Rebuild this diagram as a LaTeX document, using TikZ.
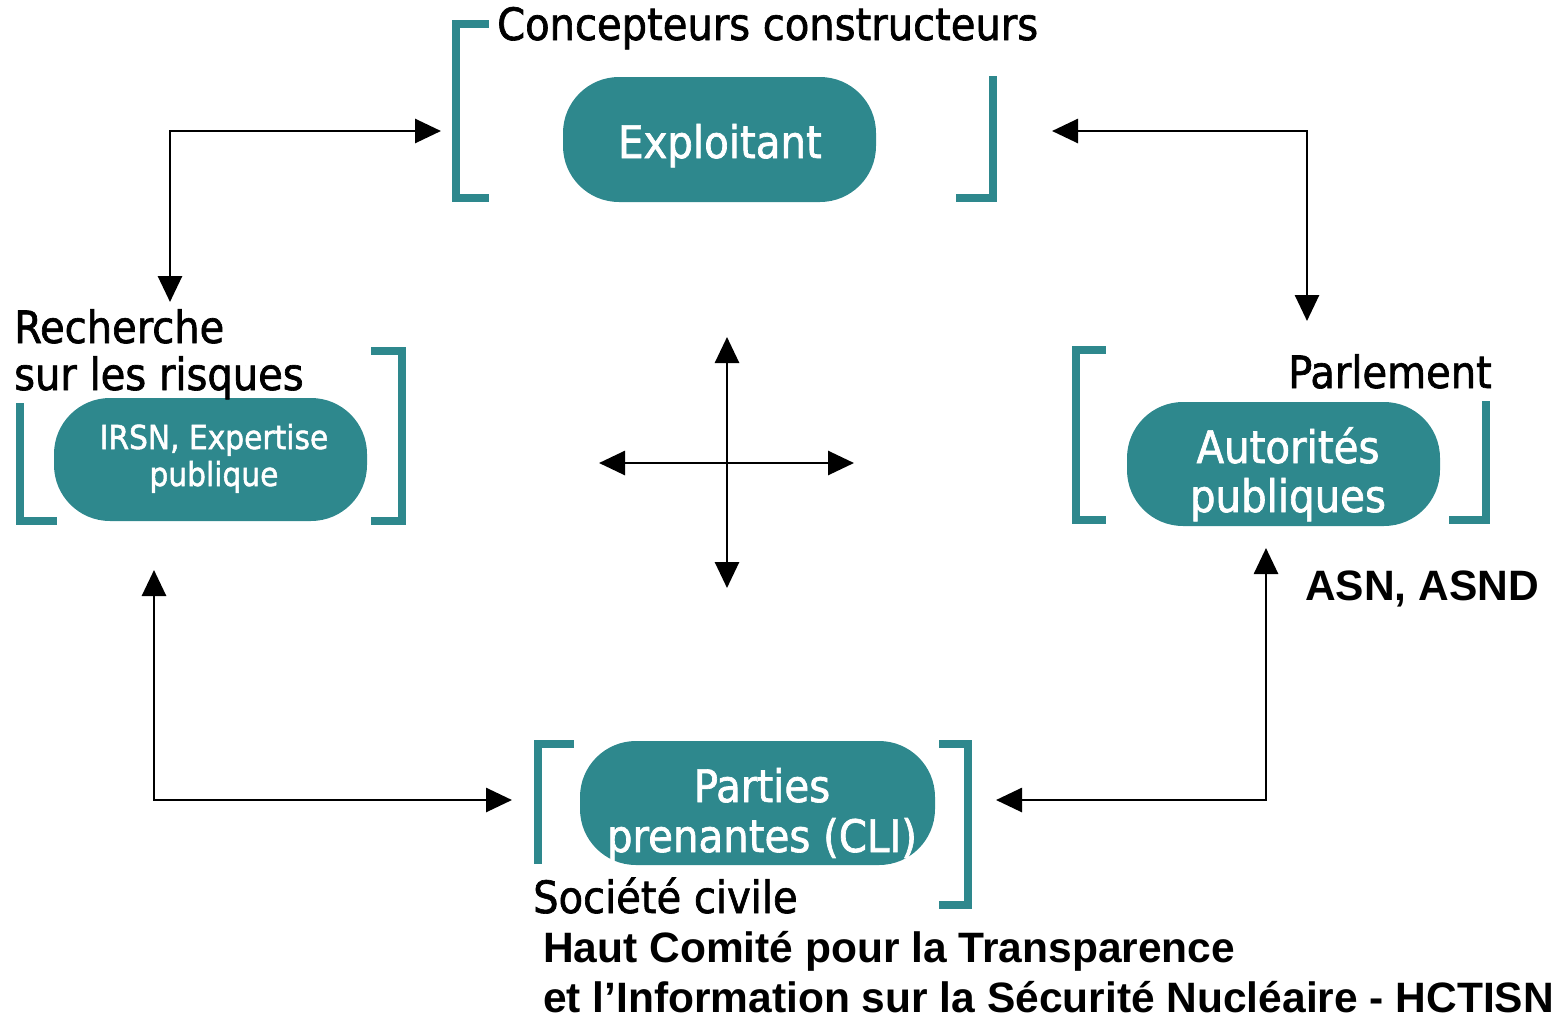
\documentclass[tikz,border=0pt]{standalone}
\usepackage{fontspec}
\setmainfont{DejaVu Sans Condensed}[FakeBold=1.5]
\newfontfamily\arialfont{Liberation Sans}
\usetikzlibrary{arrows.meta}
\definecolor{tealbox}{RGB}{46,136,141}
\begin{document}
\begin{tikzpicture}[x=1pt,y=-1pt,
  pill/.style={fill=tealbox,draw=none,rounded corners=56pt,inner sep=0pt},
  brk/.style={draw=tealbox,line width=8pt,line join=miter,line cap=rect},
  conn/.style={line width=2.8pt,{Triangle[length=26pt,width=24pt]}-{Triangle[length=26pt,width=24pt]}},
  wtxt/.style={text=white,inner sep=0pt,anchor=base,font=\fontsize{44.8}{52}\selectfont},
  btxt/.style={text=black,inner sep=0pt,anchor=base west,font=\fontsize{44.5}{52}\selectfont},
  atxt/.style={text=black,inner sep=0pt,anchor=base west,font=\arialfont\bfseries\fontsize{42.5}{48}\selectfont}]
\useasboundingbox (0,0) rectangle (1563,1018);

% boxes
\node[pill,minimum width=313pt,minimum height=125pt] (expl) at (719.5,139.5) {};
\node[pill,minimum width=313pt,minimum height=123pt] (irsn) at (210.5,459.5) {};
\node[pill,minimum width=313pt,minimum height=124pt] (auto) at (1283.5,464) {};
\node[pill,minimum width=355pt,minimum height=124pt] (part) at (757.5,803) {};

% box texts
\node[wtxt] (texpl) at (720,158) {Exploitant};
\node[wtxt,font=\fontsize{33}{40}\selectfont] (tirsn1) at (214,449) {IRSN, Expertise};
\node[wtxt,font=\fontsize{33}{40}\selectfont] (tirsn2) at (214,486) {publique};
\node[wtxt] (tauto1) at (1288,463) {Autorités};
\node[wtxt] (tauto2) at (1288,512) {publiques};
\node[wtxt] (tpart1) at (762,802) {Parties};
\node[wtxt] (tpart2) at (762,852) {prenantes (CLI)};

% brackets
\draw[brk] (485,24) -- (456,24) -- (456,198) -- (485,198);
\draw[brk] (993,80) -- (993,198) -- (960,198);
\draw[brk] (20,407) -- (20,521) -- (53,521);
\draw[brk] (375,351) -- (402,351) -- (402,521) -- (375,521);
\draw[brk] (1102,350) -- (1076,350) -- (1076,520) -- (1102,520);
\draw[brk] (1486,405) -- (1486,520) -- (1453,520);
\draw[brk] (570,744) -- (538,744) -- (538,860);
\draw[brk] (943,744) -- (968,744) -- (968,905) -- (943,905);

% labels
\node[btxt] (lconc) at (497,40) {Concepteurs constructeurs};
\node[btxt] (lrech1) at (14,343) {Recherche};
\node[btxt] (lrech2) at (14,390) {sur les risques};
\node[btxt] (lparl) at (1288,388) {Parlement};
\node[atxt] (lasn) at (1305,600) {ASN, ASND};
\node[btxt] (lsoc) at (533,913) {Société civile};
\node[atxt] (lhaut1) at (543,962) {Haut Comité pour la Transparence};
\node[atxt] (lhaut2) at (543,1012) {et l’Information sur la Sécurité Nucléaire - HCTISN};

% connector end points
\coordinate (c1a) at (170,302);
\coordinate (c1b) at (441,131);
\coordinate (c2a) at (1052,131);
\coordinate (c2b) at (1307,321);
\coordinate (c3a) at (154,570);
\coordinate (c3b) at (512,800);
\coordinate (c4a) at (996,800);
\coordinate (c4b) at (1266,548);
\coordinate (xn) at (727,337);
\coordinate (xs) at (727,588);
\coordinate (xw) at (599,463);
\coordinate (xe) at (854,463);

\draw[conn] (c1a) |- (c1b);
\draw[conn] (c2a) -| (c2b);
\draw[conn] (c3a) |- (c3b);
\draw[conn] (c4a) -| (c4b);
\draw[conn] (xn) -- (xs);
\draw[conn] (xw) -- (xe);
\end{tikzpicture}
\end{document}
